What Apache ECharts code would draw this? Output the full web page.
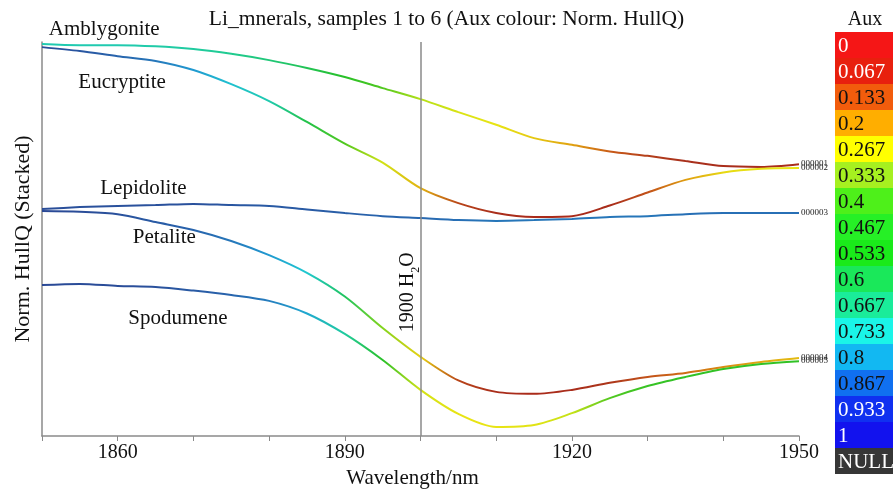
<!DOCTYPE html>
<html>
<head>
<meta charset="utf-8">
<script src="https://cdn.jsdelivr.net/npm/echarts@6/dist/echarts.min.js"></script>
<style>
  html, body { margin: 0; padding: 0; background: #fff; }
  #chart { width: 893px; height: 491px; }
</style>
</head>
<body>
<div id="chart"></div>
<script>
// wavelength samples (nm)
const wavelengths = [1850, 1855, 1860, 1865, 1870, 1875, 1880, 1885, 1890, 1895, 1900,
                     1905, 1910, 1915, 1920, 1925, 1930, 1935, 1940, 1945, 1950];
const xTickLabels = [1860, 1890, 1920, 1950];
const sampleIds = ['000001', '000002', '000003', '000004', '000005'];
const mineralNames = ['Amblygonite', 'Eucryptite', 'Lepidolite', 'Petalite', 'Spodumene'];

// stacked normalised hull quotient (offset per sample)
const amblygonite = [99.5, 99.2, 99.2, 98.9, 98.2, 97.0, 95.4, 93.4, 91.1, 88.3, 85.5,
                     82.2, 79.0, 75.6, 73.9, 72.2, 71.1, 69.8, 68.5, 68.3, 69.0];
const eucryptite = [98.7, 97.7, 96.4, 95.2, 92.9, 89.3, 85.0, 79.7, 74.2, 69.4, 62.9,
                    59.1, 56.6, 55.6, 55.8, 58.5, 61.8, 65.0, 66.9, 67.8, 68.0];
const lepidolite = [57.6, 58.1, 58.4, 58.6, 58.9, 58.6, 58.4, 57.5, 56.6, 55.8, 55.3,
                    54.8, 54.6, 54.8, 55.1, 55.6, 55.8, 56.3, 56.6, 56.6, 56.6];
const petalite = [57.1, 56.9, 56.3, 54.3, 52.3, 49.5, 45.9, 41.4, 35.4, 27.4, 20.1,
                  14.1, 11.2, 10.7, 11.7, 13.5, 15.0, 16.0, 17.5, 18.8, 19.8];
const spodumene = [38.3, 38.6, 38.1, 37.8, 36.9, 35.8, 34.3, 31.1, 25.9, 19.3, 11.7,
                   5.6, 2.3, 2.8, 5.8, 9.6, 12.7, 15.0, 17.0, 18.3, 19.0];

// aux colour value (Norm. HullQ) at each sample
const amblygoniteAux = [0.70, 0.70, 0.70, 0.69, 0.68, 0.66, 0.63, 0.58, 0.5, 0.42, 0.34,
                        0.29, 0.27, 0.24, 0.2, 0.13, 0.09, 0.07, 0.06, 0.06, 0.06];
const eucryptiteAux = [0.93, 0.91, 0.88, 0.85, 0.8, 0.75, 0.7, 0.56, 0.42, 0.3, 0.22,
                       0.1, 0.06, 0.05, 0.05, 0.06, 0.12, 0.2, 0.26, 0.27, 0.27];
const lepidoliteAux = [0.93, 0.92, 0.92, 0.92, 0.92, 0.91, 0.9, 0.9, 0.89, 0.88, 0.87,
                       0.86, 0.85, 0.85, 0.85, 0.85, 0.85, 0.86, 0.86, 0.86, 0.86];
const petaliteAux = [0.94, 0.93, 0.92, 0.9, 0.88, 0.85, 0.8, 0.74, 0.6, 0.38, 0.25,
                     0.1, 0.06, 0.05, 0.06, 0.08, 0.12, 0.15, 0.18, 0.21, 0.23];
const spodumeneAux = [0.94, 0.93, 0.93, 0.92, 0.9, 0.88, 0.84, 0.78, 0.68, 0.5, 0.3,
                      0.27, 0.27, 0.28, 0.32, 0.42, 0.47, 0.48, 0.48, 0.48, 0.48];

// label anchors [wavelength, stacked value]
const mineralLabelPos = [[1850.9, 103.3], [1854.8, 89.8], [1857.7, 62.7], [1862.0, 50.5], [1861.4, 29.9]];

const auxLegendLabels = ['0', '0.067', '0.133', '0.2', '0.267', '0.333', '0.4', '0.467', '0.533',
                         '0.6', '0.667', '0.733', '0.8', '0.867', '0.933', '1', 'NULL'];

const legendColors = ['#f51616', '#e8200e', '#f25c0c', '#ffae00', '#ffff00', '#a6f020', '#4ef01a',
                      '#26f026', '#1aea1a', '#1ae85a', '#1aec9a', '#1af5e8', '#12b8f2', '#1070f0',
                      '#1030f0', '#1212ee', '#363636'];
const legendTextWhite = ['0', '0.067', '0.933', '1', 'NULL'];

// colour ramp used for the lines (slightly darker than the legend swatches)
const lineRamp = [
    [0.00, [176, 30, 20]], [0.07, [168, 48, 28]], [0.13, [200, 90, 24]], [0.20, [224, 160, 16]],
    [0.27, [232, 228, 20]], [0.34, [180, 224, 24]], [0.42, [80, 200, 32]], [0.50, [40, 192, 40]],
    [0.60, [32, 196, 96]], [0.67, [32, 204, 152]], [0.74, [32, 200, 208]], [0.80, [32, 152, 208]],
    [0.87, [40, 104, 176]], [0.93, [42, 76, 152]], [1.00, [40, 58, 136]]
];

function auxColor(a) {
    for (let i = 1; i < lineRamp.length; i++) {
        if (a <= lineRamp[i][0]) {
            const [a0, c0] = lineRamp[i - 1];
            const [a1, c1] = lineRamp[i];
            const t = (a - a0) / (a1 - a0);
            const c = c0.map((v, k) => Math.round(v + (c1[k] - v) * t));
            return 'rgb(' + c.join(',') + ')';
        }
    }
    return 'rgb(' + lineRamp[lineRamp.length - 1][1].join(',') + ')';
}

function gradientFor(aux) {
    const w0 = wavelengths[0], w1 = wavelengths[wavelengths.length - 1];
    return new echarts.graphic.LinearGradient(0, 0, 1, 0,
        wavelengths.map((w, i) => ({ offset: (w - w0) / (w1 - w0), color: auxColor(aux[i]) })));
}

const values = [amblygonite, eucryptite, lepidolite, petalite, spodumene];
const auxes = [amblygoniteAux, eucryptiteAux, lepidoliteAux, petaliteAux, spodumeneAux];

const FONT = '"Liberation Serif", "Times New Roman", serif';

const chart = echarts.init(document.getElementById('chart'));

const series = values.map((vals, s) => ({
    name: sampleIds[s],
    type: 'line',
    data: wavelengths.map((w, i) => [w, vals[i]]),
    showSymbol: false,
    smooth: 0.3,
    lineStyle: { width: 2, color: gradientFor(auxes[s]) },
    endLabel: {
        show: true,
        formatter: '{a}',
        fontFamily: FONT,
        fontSize: 9,
        color: '#222',
        distance: 2
    },
    emphasis: { disabled: true },
    z: 3
}));

// 1900 nm water feature
series[0].markLine = {
    silent: true,
    symbol: 'none',
    label: { show: false },
    lineStyle: { color: '#8a8a8a', width: 1.5, type: 'solid' },
    data: [{ xAxis: 1900 }]
};

chart.setOption({
    animation: false,
    backgroundColor: '#fff',
    title: {
        text: 'Li_mnerals, samples 1 to 6 (Aux colour: Norm. HullQ)',
        left: 'center',
        top: 3,
        textStyle: { fontFamily: FONT, fontSize: 21.5, fontWeight: 'normal', color: '#111' }
    },
    grid: { left: 42, right: 94, top: 42, bottom: 55, outerBoundsMode: 'none', containLabel: false },
    xAxis: {
        type: 'value',
        min: 1850,
        max: 1950,
        interval: 10,
        name: 'Wavelength/nm',
        nameLocation: 'middle',
        nameGap: 31,
        nameTextStyle: { fontFamily: FONT, fontSize: 21, color: '#111', padding: [0, 16, 0, 0] },
        axisLine: { lineStyle: { color: '#8a8a8a', width: 1.5 } },
        axisTick: { show: true, length: 5, lineStyle: { color: '#8a8a8a' } },
        splitLine: { show: false },
        axisLabel: {
            fontFamily: FONT,
            fontSize: 20,
            color: '#111',
            margin: 7,
            formatter: v => xTickLabels.includes(v) ? String(v) : ''
        }
    },
    yAxis: {
        type: 'value',
        min: 0,
        max: 100,
        name: 'Norm. HullQ (Stacked)',
        nameLocation: 'middle',
        nameGap: 8,
        nameTextStyle: { fontFamily: FONT, fontSize: 22, color: '#111' },
        axisLine: { show: true, lineStyle: { color: '#8a8a8a', width: 1.5 } },
        axisTick: { show: false },
        axisLabel: { show: false },
        splitLine: { show: false }
    },
    series: series
});

// annotations and the aux colour key
const graphics = [];
mineralNames.forEach((name, i) => {
    const p = chart.convertToPixel({ gridIndex: 0 }, mineralLabelPos[i]);
    graphics.push({
        type: 'text', x: p[0], y: p[1], silent: true,
        style: { text: name, font: '21px ' + FONT, fill: '#111', verticalAlign: 'middle' }
    });
});

const h2o = chart.convertToPixel({ gridIndex: 0 }, [1900, 36.5]);
graphics.push({
    type: 'text', x: h2o[0] + 1, y: h2o[1], rotation: Math.PI / 2, silent: true,
    style: {
        text: '{n|1900 H}{s|2}{n|O}',
        fill: '#111',
        align: 'center',
        verticalAlign: 'bottom',
        rich: {
            n: { fontFamily: FONT, fontSize: 20, lineHeight: 24, verticalAlign: 'top', fill: '#111' },
            s: { fontFamily: FONT, fontSize: 12, lineHeight: 12, verticalAlign: 'bottom', fill: '#111' }
        }
    }
});

const keyLeft = 835, keyTop = 32, cellH = 26;
graphics.push({
    type: 'text', x: 865, y: 20, silent: true,
    style: { text: 'Aux', font: '20px ' + FONT, fill: '#111', align: 'center', verticalAlign: 'middle' }
});
auxLegendLabels.forEach((lab, i) => {
    graphics.push({
        type: 'rect', silent: true,
        shape: { x: keyLeft, y: keyTop + i * cellH, width: 60, height: cellH },
        style: { fill: legendColors[i] }
    });
    graphics.push({
        type: 'text', silent: true,
        x: keyLeft + 3, y: keyTop + i * cellH + cellH / 2 + 1,
        style: {
            text: lab, font: '21px ' + FONT,
            fill: legendTextWhite.includes(lab) ? '#fff' : '#111',
            verticalAlign: 'middle'
        }
    });
});

chart.setOption({ graphic: graphics });
</script>
</body>
</html>
